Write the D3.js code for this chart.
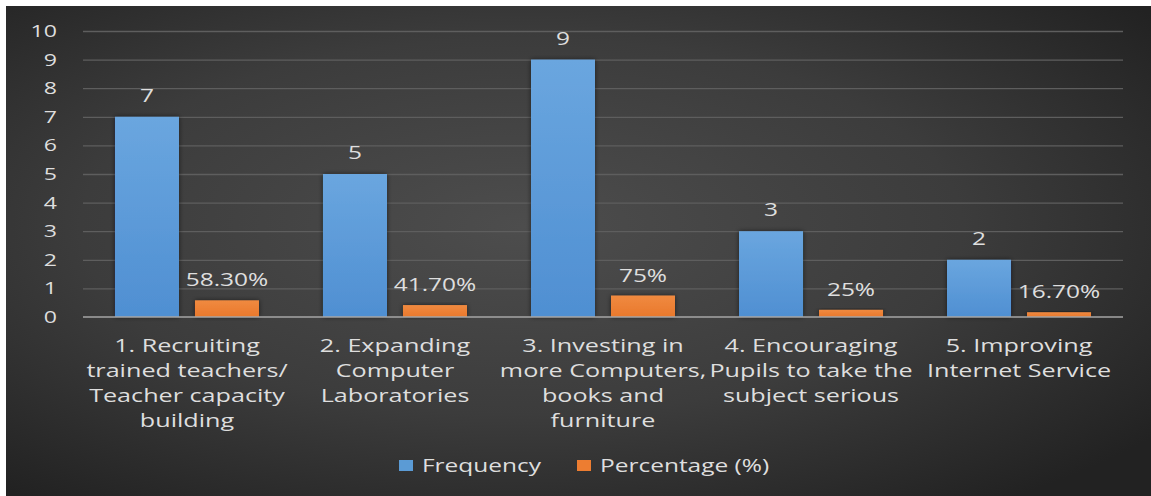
<!DOCTYPE html>
<html><head><meta charset="utf-8">
<script src="https://cdn.jsdelivr.net/npm/d3@7"></script>
<style>
html,body{margin:0;padding:0;background:#fff;}
svg{display:block;}
text{font-family:"Open Sans",sans-serif;}
</style></head>
<body>
<svg id="chart" width="1151" height="496"></svg>
<script>
const categories = [
  ["1. Recruiting", "trained teachers/", "Teacher capacity", "building"],
  ["2. Expanding", "Computer", "Laboratories"],
  ["3. Investing in", "more Computers,", "books and", "furniture"],
  ["4. Encouraging", "Pupils to take the", "subject serious"],
  ["5. Improving", "Internet Service"]
];
const frequency = [7, 5, 9, 3, 2];
const percentage = [0.583, 0.417, 0.75, 0.25, 0.167];
const percentageLabels = ["58.30%", "41.70%", "75%", "25%", "16.70%"];
const seriesNames = ["Frequency", "Percentage (%)"];
const yTicks = [0,1,2,3,4,5,6,7,8,9,10];

const W = 1151, H = 496;
const SX = 1.36; // horizontal stretch of the reference text
const TXT = "#dedede";
const svg = d3.select("#chart");
const defs = svg.append("defs");

const bg = defs.append("radialGradient").attr("id","bg")
  .attr("cx","45%").attr("cy","45%").attr("r","70%");
bg.append("stop").attr("offset","0%").attr("stop-color","#4d4d4d");
bg.append("stop").attr("offset","55%").attr("stop-color","#3c3c3c");
bg.append("stop").attr("offset","100%").attr("stop-color","#222");

const gb = defs.append("linearGradient").attr("id","gb").attr("x1",0).attr("x2",0).attr("y1",0).attr("y2",1);
gb.append("stop").attr("offset","0%").attr("stop-color","#6aa6df");
gb.append("stop").attr("offset","100%").attr("stop-color","#4f8fd2");
const go = defs.append("linearGradient").attr("id","go").attr("x1",0).attr("x2",0).attr("y1",0).attr("y2",1);
go.append("stop").attr("offset","0%").attr("stop-color","#f08a40");
go.append("stop").attr("offset","100%").attr("stop-color","#e9782c");

const sh = defs.append("filter").attr("id","sh").attr("x","-20%").attr("y","-20%").attr("width","140%").attr("height","140%");
sh.append("feDropShadow").attr("dx",0).attr("dy",0).attr("stdDeviation",2.5).attr("flood-color","#000").attr("flood-opacity",0.55);

svg.append("rect").attr("x",6).attr("y",6).attr("width",W-6).attr("height",H-6).attr("fill","url(#bg)");

const plotL = 83, plotR = 1123, plotT = 31, plotB = 317;
const y = d3.scaleLinear().domain([0,10]).range([plotB, plotT]);
const x0 = d3.scaleBand().domain(d3.range(categories.length)).range([plotL, plotR]).paddingInner(0.3077).paddingOuter(0.1538);
const x1 = d3.scaleBand().domain([0,1]).range([0, x0.bandwidth()]).paddingInner(0.2);

// gridlines
const grid = svg.append("g").attr("transform",`translate(${plotL},0)`)
  .call(d3.axisLeft(y).tickValues(yTicks.slice(1)).tickSize(-(plotR-plotL)).tickFormat(""));
grid.select(".domain").remove();
grid.selectAll("line").attr("stroke","#5e5e5e").attr("stroke-width",1.3);

// y axis labels
const ya = svg.append("g").attr("transform",`translate(57,0)`)
  .call(d3.axisLeft(y).tickValues(yTicks).tickSize(0).tickPadding(0));
ya.select(".domain").remove();
ya.selectAll("text").attr("fill",TXT).attr("x",0).attr("transform",`scale(${SX},1)`)
  .style("font-size","17px").style("font-family","Open Sans");

const groups = svg.append("g").selectAll("g").data(categories).join("g")
  .attr("transform",(d,i)=>`translate(${x0(i)},0)`);

groups.append("rect")
  .attr("x",x1(0)).attr("width",x1.bandwidth())
  .attr("y",(d,i)=>y(frequency[i])).attr("height",(d,i)=>y(0)-y(frequency[i]))
  .attr("fill","url(#gb)").attr("filter","url(#sh)");
groups.append("rect")
  .attr("x",x1(1)).attr("width",x1.bandwidth())
  .attr("y",(d,i)=>y(percentage[i])).attr("height",(d,i)=>y(0)-y(percentage[i]))
  .attr("fill","url(#go)").attr("filter","url(#sh)");

// axis baseline
svg.append("line").attr("x1",plotL).attr("x2",plotR).attr("y1",y(0)).attr("y2",y(0))
  .attr("stroke","#a6a6a6").attr("stroke-width",1.5);

// data labels
groups.append("g")
  .attr("transform",(d,i)=>`translate(${x1(0)+x1.bandwidth()/2},${y(frequency[i])-15}) scale(${SX},1)`)
  .append("text").attr("text-anchor","middle").attr("fill",TXT).style("font-size","18px")
  .text((d,i)=>frequency[i]);
groups.append("g")
  .attr("transform",(d,i)=>`translate(${x1(1)+x1.bandwidth()/2},${y(percentage[i])-14}) scale(${SX},1)`)
  .append("text").attr("text-anchor","middle").attr("fill",TXT).style("font-size","18px")
  .text((d,i)=>percentageLabels[i]);

// category labels
groups.append("g")
  .attr("transform",`translate(${x0.bandwidth()/2},0) scale(${SX},1)`)
  .append("text").attr("text-anchor","middle").attr("fill",TXT).style("font-size","18.5px")
  .selectAll("tspan").data(d=>d).join("tspan")
  .attr("x",0).attr("y",(d,j)=>352+j*25).text(d=>d);

// legend
const legend = svg.append("g");
const legX = [399, 577];
const colors = ["#5b9bd5","#ed7d31"];
seriesNames.forEach((s,i)=>{
  legend.append("rect").attr("x",legX[i]).attr("y",460).attr("width",14).attr("height",11).attr("fill",colors[i]);
  legend.append("g").attr("transform",`translate(${legX[i]+23},472) scale(${SX},1)`)
    .append("text").attr("fill",TXT).style("font-size","18px").text(s);
});
</script>
</body></html>
